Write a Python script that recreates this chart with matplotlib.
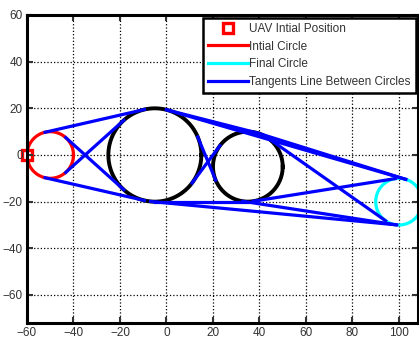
import matplotlib
matplotlib.use('Agg')
import matplotlib.pyplot as plt
import numpy as np

plt.rcParams['font.family'] = ['Liberation Sans', 'DejaVu Sans']

# circles: centre x, centre y, radius
start_circle = (-50.0, 0.0, 10.0)
final_circle = (100.0, -20.0, 10.0)
mid_x = [-5.0, 35.0]
mid_y = [0.0, -5.0]
mid_r = [20.0, 15.0]
uav_pos = (-60.0, 0.0)

xticks = [-60, -40, -20, 0, 20, 40, 60, 80, 100]
yticks = [-60, -40, -20, 0, 20, 40, 60]


def circle_xy(cx, cy, r, n=200):
    t = np.linspace(0, 2 * np.pi, n)
    return cx + r * np.cos(t), cy + r * np.sin(t)


def tangents(a, b, internal=True):
    (x1, y1, r1), (x2, y2, r2) = a, b
    dx, dy = x2 - x1, y2 - y1
    dist = np.hypot(dx, dy)
    th = np.arctan2(dy, dx)
    out = []
    for sgn in (1, -1):
        phi = th + sgn * np.arccos((r1 - r2) / dist)
        n = np.array([np.cos(phi), np.sin(phi)])
        out.append(((x1 + r1 * n[0], x2 + r2 * n[0]), (y1 + r1 * n[1], y2 + r2 * n[1])))
    if internal:
        for sgn in (1, -1):
            phi = th + sgn * np.arccos((r1 + r2) / dist)
            n = np.array([np.cos(phi), np.sin(phi)])
            out.append(((x1 + r1 * n[0], x2 - r2 * n[0]), (y1 + r1 * n[1], y2 - r2 * n[1])))
    return out


mids = list(zip(mid_x, mid_y, mid_r))
chain = [start_circle] + mids + [final_circle]

fig = plt.figure(figsize=(4.19, 3.39), dpi=100)
ax = fig.add_axes([0.0644, 0.0472, 0.9344, 0.9086])

for c in mids:
    x, y = circle_xy(*c)
    ax.plot(x, y, color='k', lw=2.8)

x, y = circle_xy(*start_circle)
ax.plot(x, y, color='red', lw=2.3, label='Intial Circle')
x, y = circle_xy(*final_circle)
ax.plot(x, y, color='cyan', lw=2.3, label='Final Circle')

first = True
for a, b in zip(chain[:-1], chain[1:]):
    for lx, ly in tangents(a, b):
        ax.plot(lx, ly, color='blue', lw=2.3,
                label='Tangents Line Between Circles' if first else None)
        first = False
for lx, ly in tangents(mids[0], final_circle, internal=False):
    ax.plot(lx, ly, color='blue', lw=2.3)

ax.plot([uav_pos[0]], [uav_pos[1]], 's', color='red', mfc='white', mec='red',
        mew=2.4, ms=6.5, clip_on=False, zorder=1, label='UAV Intial Position')

ax.set_xlim(-60, 108.4)
ax.set_ylim(-72, 60)
ax.set_xticks(xticks)
ax.set_yticks(yticks)
ax.grid(True, color='k', linestyle=':', lw=0.9)
ax.tick_params(direction='in', length=4, width=1.5, top=True, right=True,
               labelsize=8.5, colors='#333333', pad=3)
for s in ax.spines.values():
    s.set_linewidth(2.2)
    s.set_color('k')

h, l = ax.get_legend_handles_labels()
order = [l.index('UAV Intial Position'), l.index('Intial Circle'),
         l.index('Final Circle'), l.index('Tangents Line Between Circles')]
leg = ax.legend([h[i] for i in order], [l[i] for i in order], loc='upper right',
                bbox_to_anchor=(1.0, 1.0), borderaxespad=0.25, fontsize=8.5,
                fancybox=False, framealpha=1, edgecolor='k', handlelength=3.4,
                handletextpad=0.1, labelspacing=0.5, borderpad=0.4)
leg.get_frame().set_linewidth(1.8)
for t in leg.get_texts():
    t.set_color('#333333')

fig.savefig('out.png', dpi=100)
